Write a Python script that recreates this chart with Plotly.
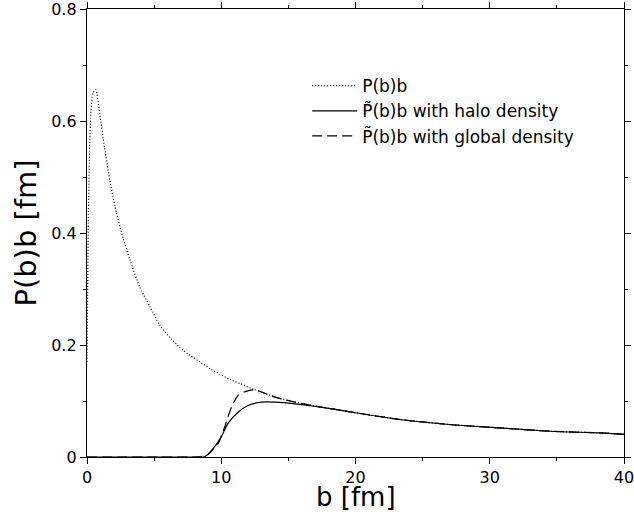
import plotly.graph_objects as go

# P(b)b
b_p = [0, 0.05, 0.1, 0.2, 0.3, 0.45, 0.65, 0.95, 1.3, 1.7, 2.2, 2.7, 3.2, 3.9, 4.7, 5.4,
       6.2, 6.9, 7.7, 8.4, 9.2, 9.9, 10.6, 11.4, 12.4, 13.0, 14.0, 15.5, 17.0, 18.5, 20.0,
       23.3, 27.0, 30.7, 34.5, 38.2, 40.0]
v_p = [0.17, 0.30, 0.42, 0.56, 0.62, 0.65, 0.656, 0.613, 0.554, 0.494, 0.435, 0.39, 0.352,
       0.305, 0.268, 0.236, 0.213, 0.196, 0.181, 0.17, 0.157, 0.148, 0.139, 0.131, 0.121,
       0.116, 0.107, 0.098, 0.091, 0.085, 0.079, 0.067, 0.058, 0.052, 0.046, 0.043, 0.0405]

# P~(b)b with halo density
b_h = [0, 8.0, 8.8, 9.5, 10.0, 10.5, 11.25, 12.0, 13.0, 14.0, 15.5, 17.0, 18.5, 20.0,
       23.3, 27.0, 30.7, 34.5, 38.2, 40.0]
v_h = [0, 0, 0.001, 0.018, 0.036, 0.06, 0.080, 0.092, 0.098, 0.098, 0.095, 0.0905, 0.085,
       0.079, 0.067, 0.058, 0.052, 0.046, 0.043, 0.0405]

# P~(b)b with global density
b_g = [0, 8.0, 8.7, 9.0, 9.76, 10.26, 10.76, 11.25, 11.7, 12.1, 12.5, 13.0, 14.0, 15.5,
       17.0, 18.5, 20.0, 23.3, 27.0, 30.7, 34.5, 38.2, 40.0]
v_g = [0, 0, 0.001, 0.004, 0.024, 0.054, 0.089, 0.110, 0.116, 0.119, 0.120, 0.116, 0.107,
       0.098, 0.091, 0.085, 0.079, 0.067, 0.058, 0.052, 0.046, 0.043, 0.0405]

names = ["P(b)b", "P\u0303(b)b with halo density", "P\u0303(b)b with global density"]
x_title = "b [fm]"
y_title = "P(b)b [fm]"

FONT = "DejaVu Sans"

fig = go.Figure()
fig.add_trace(go.Scatter(x=b_p, y=v_p, mode="lines", name=names[0],
                         line=dict(color="black", width=1.2, dash="1px,2px", shape="spline", smoothing=0.6)))
fig.add_trace(go.Scatter(x=b_h, y=v_h, mode="lines", name=names[1],
                         line=dict(color="black", width=1.2, shape="spline", smoothing=0.6)))
fig.add_trace(go.Scatter(x=b_g, y=v_g, mode="lines", name=names[2],
                         line=dict(color="black", width=1.2, dash="10px,5px", shape="spline", smoothing=0.6)))

axis_common = dict(showline=True, linecolor="black", linewidth=1.3, mirror="allticks",
                   ticks="outside", ticklen=6, tickwidth=1.2, tickcolor="black",
                   showgrid=False, zeroline=False, automargin=False,
                   ticklabeloverflow="allow",
                   tickfont=dict(family=FONT, size=16, color="black"))

fig.update_xaxes(range=[0, 40], dtick=10, tick0=0,
                 minor=dict(dtick=5, ticks="outside", ticklen=3, tickwidth=1.2, tickcolor="black", showgrid=False),
                 **axis_common)
fig.update_yaxes(range=[0, 0.8], dtick=0.2, tick0=0,
                 minor=dict(dtick=0.1, ticks="outside", ticklen=3, tickwidth=1.2, tickcolor="black", showgrid=False),
                 title=dict(text=y_title, font=dict(family=FONT, size=29, color="black"), standoff=6),
                 **axis_common)

fig.add_annotation(text=x_title, x=0.5, y=0, xref="paper", yref="paper",
                   xanchor="center", yanchor="middle", yshift=-40, showarrow=False,
                   borderpad=0, font=dict(family=FONT, size=26, color="black"))

fig.update_layout(width=634, height=512, margin=dict(l=87, r=10, t=9, b=55),
                  plot_bgcolor="white", paper_bgcolor="white",
                  legend=dict(x=0.41, y=0.868, xanchor="left", yanchor="top", itemwidth=45,
                              bgcolor="rgba(0,0,0,0)", tracegroupgap=0,
                              font=dict(family=FONT, size=17, color="black")),
                  showlegend=True)

fig.write_html("out.html", config={"displayModeBar": False},
               post_script="document.body.style.margin='0';")
